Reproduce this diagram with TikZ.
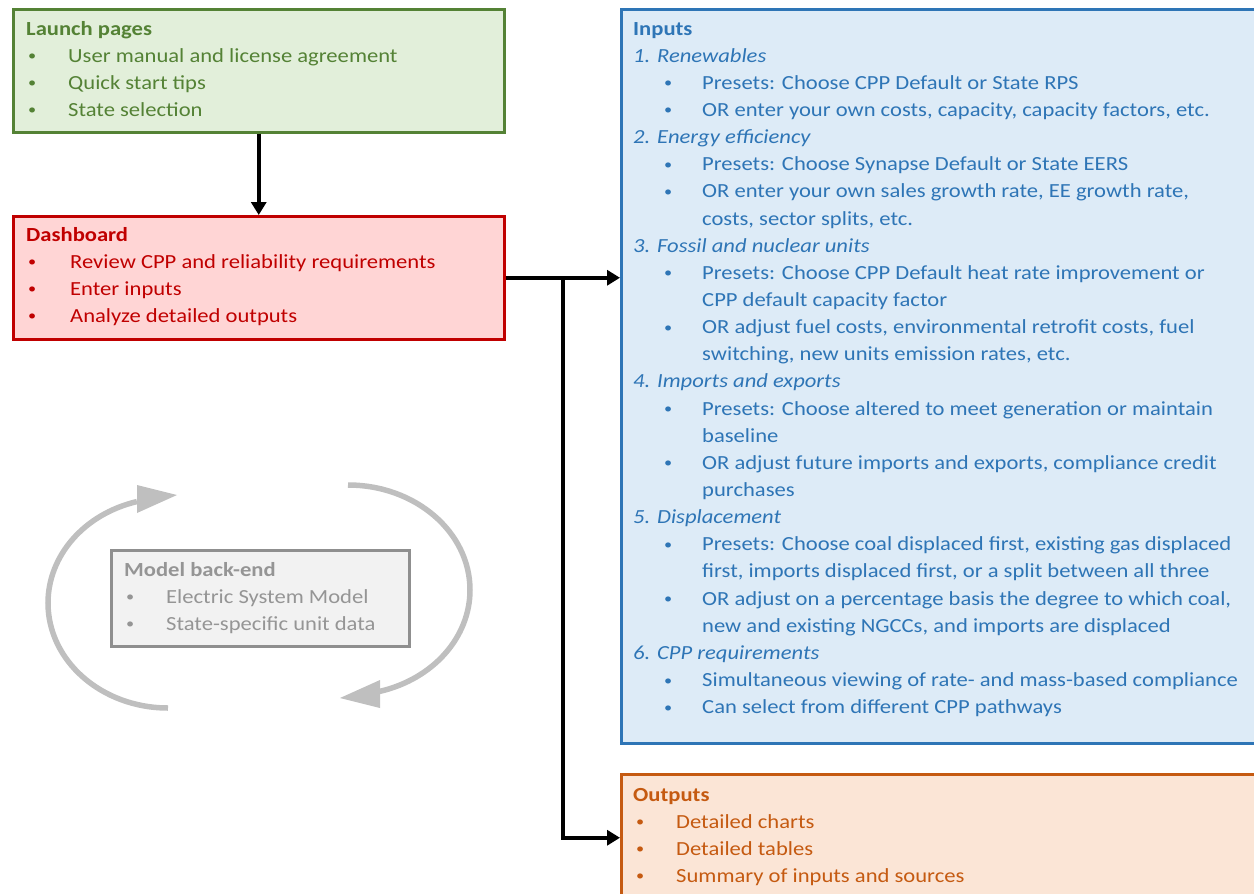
\documentclass[tikz,border=0pt]{standalone}
\usepackage{fontspec}
\setmainfont{Carlito}[FakeStretch=1.13]
\usetikzlibrary{arrows.meta}
\definecolor{gfill}{HTML}{E2EFDA}
\definecolor{gdraw}{HTML}{548235}
\definecolor{rfill}{HTML}{FFD5D5}
\definecolor{rdraw}{HTML}{C00000}
\definecolor{kfill}{HTML}{F2F2F2}
\definecolor{kdraw}{HTML}{8F8F8F}
\definecolor{ktext}{HTML}{959595}
\definecolor{bfill}{HTML}{DDEBF7}
\definecolor{bdraw}{HTML}{2E75B6}
\definecolor{ofill}{HTML}{FBE5D6}
\definecolor{odraw}{HTML}{C55A11}
\definecolor{arcgrey}{HTML}{BFBFBF}
\newcommand\smallbul{\raisebox{1.5pt}{\scalebox{0.72}{\textbullet}}}
\newcommand\bl[3]{\makebox[#2][l]{\hspace*{#1}\smallbul}#3}
\newcommand\cont[2]{\hspace*{#1}#2}
\tikzset{
  panel/.style={draw, rectangle, line width=2.5pt, anchor=north west, inner sep=0pt},
  txt/.style={anchor=base west, inner sep=0pt, font=\fontsize{20}{27.15}\selectfont},
  conn/.style={draw=black, line width=4pt, -{Triangle[length=13pt,width=15pt]}},
  greyarc/.style={draw=arcgrey, line width=5.5pt},
}
\begin{document}
\begin{tikzpicture}[x=1pt,y=-1pt]
\useasboundingbox (0,0) rectangle (1254,894);
% boxes
\node[panel, draw=gdraw, fill=gfill, minimum width=491pt, minimum height=123pt] (launch) at (12,8) {};
\node[panel, draw=rdraw, fill=rfill, minimum width=491pt, minimum height=123pt] (dash) at (12,215) {};
\node[panel, draw=kdraw, fill=kfill, minimum width=298pt, minimum height=96pt] (model) at (110,549) {};
\node[panel, draw=bdraw, fill=bfill, minimum width=650pt, minimum height=734pt] (inputs) at (620,8) {};
\node[panel, draw=odraw, fill=ofill, minimum width=650pt, minimum height=127pt] (outputs) at (620,773) {};
% texts
\node[txt, text=gdraw] (launchtxt) at (26,35) {\begin{tabular}[t]{@{}l@{}}
\textbf{Launch pages}\\
\bl{2pt}{42pt}{User manual and license agreement}\\
\bl{2pt}{42pt}{Quick start tips}\\
\bl{2pt}{42pt}{State selection}
\end{tabular}};
\node[txt, text=rdraw] (dashtxt) at (26,241) {\begin{tabular}[t]{@{}l@{}}
\textbf{Dashboard}\\
\bl{2pt}{44pt}{Review CPP and reliability requirements}\\
\bl{2pt}{44pt}{Enter inputs}\\
\bl{2pt}{44pt}{Analyze detailed outputs}
\end{tabular}};
\node[txt, text=ktext] (modeltxt) at (124,576) {\begin{tabular}[t]{@{}l@{}}
\textbf{Model back-end}\\
\bl{2pt}{42pt}{Electric System Model}\\
\bl{2pt}{42pt}{State-specific unit data}
\end{tabular}};
\node[txt, text=bdraw] (inputstxt) at (633,35) {\begin{tabular}[t]{@{}l@{}}
\textbf{Inputs}\\
\textit{1. Renewables}\\
\bl{31pt}{69pt}{Presets: Choose CPP Default or State RPS}\\
\bl{31pt}{69pt}{OR enter your own costs, capacity, capacity factors, etc.}\\
\textit{2. Energy efficiency}\\
\bl{31pt}{69pt}{Presets: Choose Synapse Default or State EERS}\\
\bl{31pt}{69pt}{OR enter your own sales growth rate, EE growth rate,}\\
\cont{69pt}{costs, sector splits, etc.}\\
\textit{3. Fossil and nuclear units}\\
\bl{31pt}{69pt}{Presets: Choose CPP Default heat rate improvement or}\\
\cont{69pt}{CPP default capacity factor}\\
\bl{31pt}{69pt}{OR adjust fuel costs, environmental retrofit costs, fuel}\\
\cont{69pt}{switching, new units emission rates, etc.}\\
\textit{4. Imports and exports}\\
\bl{31pt}{69pt}{Presets: Choose altered to meet generation or maintain}\\
\cont{69pt}{baseline}\\
\bl{31pt}{69pt}{OR adjust future imports and exports, compliance credit}\\
\cont{69pt}{purchases}\\
\textit{5. Displacement}\\
\bl{31pt}{69pt}{Presets: Choose coal displaced first, existing gas displaced}\\
\cont{69pt}{first, imports displaced first, or a split between all three}\\
\bl{31pt}{69pt}{OR adjust on a percentage basis the degree to which coal,}\\
\cont{69pt}{new and existing NGCCs, and imports are displaced}\\
\textit{6. CPP requirements}\\
\bl{31pt}{69pt}{Simultaneous viewing of rate- and mass-based compliance}\\
\bl{31pt}{69pt}{Can select from different CPP pathways}
\end{tabular}};
\node[txt, text=odraw] (outputstxt) at (633,801) {\begin{tabular}[t]{@{}l@{}}
\textbf{Outputs}\\
\bl{3pt}{43pt}{Detailed charts}\\
\bl{3pt}{43pt}{Detailed tables}\\
\bl{3pt}{43pt}{Summary of inputs and sources}
\end{tabular}};
% connectors
\draw[conn] (launch.south) -- (dash.north);
\draw[conn] (dash.east) -- (inputs.west |- dash.east);
\coordinate (branch) at (563,276.5);
\draw[conn] (branch) |- (outputs.west);
% cycle arrows around the model back-end
\draw[greyarc] (168,708) arc[start angle=90, end angle=255, x radius=120, y radius=105];
\fill[arcgrey] (137,485) -- (177,495) -- (137,513) -- cycle;
\draw[greyarc] (348,485) arc[start angle=270, end angle=435, x radius=122, y radius=105];
\fill[arcgrey] (380,680) -- (340,698) -- (380,708) -- cycle;
\end{tikzpicture}
\end{document}
